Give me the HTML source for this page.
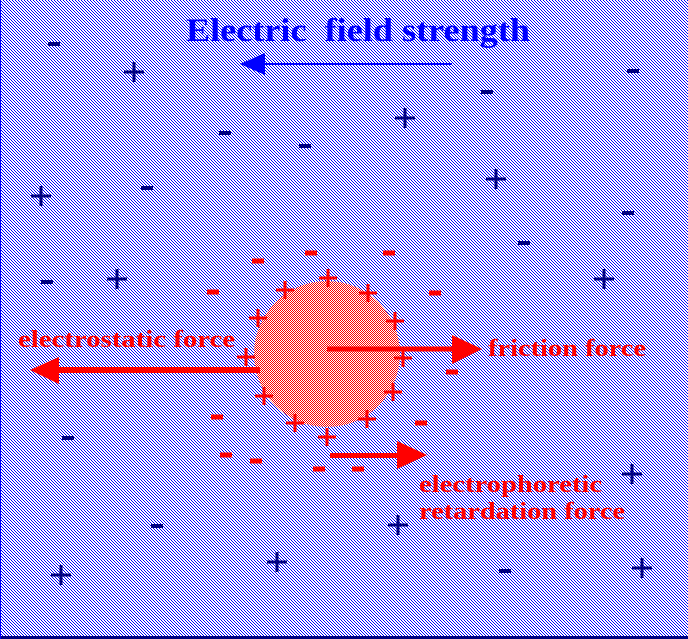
<!DOCTYPE html>
<html><head><style>html,body{margin:0;padding:0;background:#fff}svg{display:block}</style></head>
<body>
<svg width="688" height="639" viewBox="0 0 688 639" xmlns="http://www.w3.org/2000/svg" shape-rendering="crispEdges">
<defs>
<pattern id="bg" width="3" height="3" patternUnits="userSpaceOnUse">
<rect width="3" height="3" fill="#fff"/>
<rect x="0" y="0" width="1" height="1" fill="#0000ff"/><rect x="1" y="1" width="1" height="1" fill="#0000ff"/>
<rect x="2" y="2" width="1" height="1" fill="#0000ff"/>
</pattern>
<pattern id="ck" width="2" height="2" patternUnits="userSpaceOnUse">
<rect width="2" height="2" fill="#fff"/><rect width="1" height="1" fill="#ff0000"/><rect x="1" y="1" width="1" height="1" fill="#ff0000"/>
</pattern>
<g id="bm"><rect x="-6" y="-2" width="12" height="4" fill="#000080"/></g>
<g id="bp"><rect x="-10" y="-1.5" width="20" height="3" fill="#000080"/><rect x="-1.5" y="-10" width="3" height="20" fill="#000080"/></g>
<g id="rm"><rect x="-6" y="-2.5" width="12" height="5" fill="#ff0000"/></g>
<g id="rp"><rect x="-9" y="-1.5" width="18" height="3" fill="#ff0000"/><rect x="-1.5" y="-9" width="3" height="18" fill="#ff0000"/></g>
</defs>
<rect width="688" height="639" fill="url(#bg)"/>
<rect x="0" y="636" width="688" height="3" fill="#000080"/>
<rect x="0" y="0" width="1" height="639" fill="#0000ff"/>

<text x="186" y="41" font-family="Liberation Serif, serif" font-weight="bold" font-size="33" fill="#0000ff" textLength="344" lengthAdjust="spacingAndGlyphs" xml:space="preserve" shape-rendering="auto">Electric  field strength</text>
<rect x="262" y="63" width="190" height="2" fill="#0000ff"/>
<polygon points="240,64 265,53 265,75" fill="#0000ff"/>

<g>
<use href="#bm" x="54" y="44"/><use href="#bm" x="633" y="71"/><use href="#bm" x="487" y="92"/>
<use href="#bm" x="225" y="133"/><use href="#bm" x="305" y="146"/><use href="#bm" x="147" y="188"/>
<use href="#bm" x="628" y="213"/><use href="#bm" x="524" y="243"/><use href="#bm" x="47" y="282"/>
<use href="#bm" x="68" y="438"/><use href="#bm" x="157" y="526"/><use href="#bm" x="505" y="571"/>
<use href="#bp" x="134" y="72"/><use href="#bp" x="405" y="118"/><use href="#bp" x="496" y="179"/>
<use href="#bp" x="41" y="196"/><use href="#bp" x="117" y="279"/><use href="#bp" x="604" y="279"/>
<use href="#bp" x="632" y="474"/><use href="#bp" x="398" y="525"/><use href="#bp" x="61" y="575"/>
<use href="#bp" x="277" y="562"/><use href="#bp" x="642" y="568"/>
</g>

<ellipse cx="327" cy="354" rx="73" ry="73" fill="url(#ck)" shape-rendering="auto"/>

<g>
<use href="#rm" x="311" y="253"/><use href="#rm" x="389" y="253"/><use href="#rm" x="258" y="261"/>
<use href="#rm" x="213" y="292"/><use href="#rm" x="435" y="293"/><use href="#rm" x="452" y="372"/>
<use href="#rm" x="217" y="417"/><use href="#rm" x="421" y="423"/><use href="#rm" x="226" y="455"/>
<use href="#rm" x="256" y="461"/><use href="#rm" x="319" y="469"/><use href="#rm" x="358" y="469"/>
<use href="#rp" x="328" y="278"/><use href="#rp" x="285" y="290"/><use href="#rp" x="368" y="293"/>
<use href="#rp" x="258" y="318"/><use href="#rp" x="395" y="321"/><use href="#rp" x="246" y="357"/>
<use href="#rp" x="403" y="358"/><use href="#rp" x="264" y="396"/><use href="#rp" x="393" y="392"/>
<use href="#rp" x="295" y="423"/><use href="#rp" x="367" y="419"/><use href="#rp" x="327" y="437"/>
</g>

<rect x="55" y="367" width="205" height="6" fill="#ff0000"/>
<polygon points="30,370 59,357 59,384" fill="#ff0000" shape-rendering="auto"/>
<rect x="327" y="346.5" width="128" height="5" fill="#ff0000"/>
<polygon points="482,349 452,335 452,364" fill="#ff0000" shape-rendering="auto"/>
<rect x="330" y="453" width="70" height="5" fill="#ff0000"/>
<polygon points="427,455 397,441 397,469" fill="#ff0000" shape-rendering="auto"/>

<g font-family="Liberation Serif, serif" font-weight="bold" font-size="24" fill="#ff0000" shape-rendering="auto">
<text x="18" y="347" textLength="217" lengthAdjust="spacingAndGlyphs">electrostatic force</text>
<text x="488" y="356" textLength="158" lengthAdjust="spacingAndGlyphs">friction force</text>
<text x="419" y="492" textLength="183" lengthAdjust="spacingAndGlyphs">electrophoretic</text>
<text x="419" y="519" textLength="206" lengthAdjust="spacingAndGlyphs">retardation force</text>
</g>
</svg>
</body></html>
